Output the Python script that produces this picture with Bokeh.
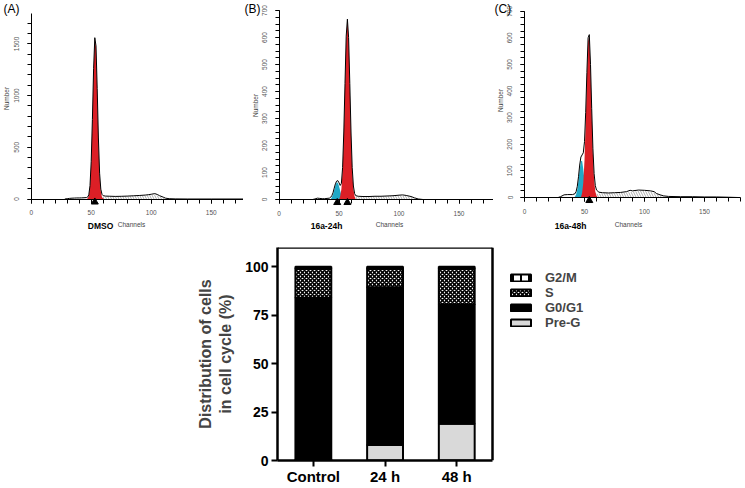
from bokeh.plotting import figure
from bokeh.models import (Range1d, FixedTicker, Label, Legend, LegendItem,
                          LinearAxis, ColumnDataSource)
from bokeh.layouts import row, column
from bokeh.embed import file_html
from bokeh.resources import INLINE

FONT = "Liberation Sans"

# ---------------- data: histogram A (DMSO) ----------------
a_ch = [28, 30, 32, 34, 36, 38, 40, 42, 44, 46, 47, 48, 49, 50, 51, 52, 53, 54, 55, 56,
        57, 58, 59, 60, 62, 65, 70, 75, 80, 85, 90, 95, 98, 100, 103, 105, 107, 110, 112, 115,
        120, 130, 150, 180]
a_cnt = [0, 3, 6, 8, 9, 10, 10, 11, 12, 14, 18, 40, 130, 360, 770, 1260, 1560, 1480, 1070, 590,
         250, 95, 45, 32, 28, 27, 25, 26, 28, 31, 34, 38, 42, 46, 52, 44, 32, 18, 8, 3,
         1, 0, 0, 0]
a_g1_ch = [46, 47, 48, 49, 50, 51, 52, 53, 54, 55, 56, 57, 58, 59, 60, 61]
a_g1_cnt = [0, 5, 30, 118, 345, 750, 1240, 1550, 1470, 1050, 570, 235, 75, 18, 4, 0]
a_pg_ch = []
a_pg_cnt = []
a_s_ch = [50, 55, 60, 65, 70, 75, 80, 85, 90, 95, 100, 103, 106, 110, 114]
a_s_cnt = [0, 10, 22, 24, 23, 24, 26, 29, 32, 35, 40, 42, 30, 12, 0]
a_marks = [53]

# ---------------- data: histogram B (16a-24h) ----------------
b_ch = [28, 30, 32, 34, 36, 38, 40, 42, 43, 44, 45, 46, 47, 48, 49, 50, 51, 52, 53, 54,
        55, 56, 57, 58, 59, 60, 61, 62, 63, 64, 66, 70, 75, 80, 85, 90, 95, 100, 103, 106,
        110, 113, 116, 120, 140, 180]
b_cnt = [0, 2, 5, 4, 3, 3, 4, 5, 8, 14, 25, 42, 58, 68, 70, 62, 52, 60, 118, 250,
         430, 605, 668, 600, 430, 250, 118, 50, 22, 14, 12, 11, 11, 12, 12, 13, 14, 16, 17, 15,
         11, 6, 2, 0, 0, 0]
b_g1_ch = [50, 51, 52, 53, 54, 55, 56, 57, 58, 59, 60, 61, 62, 63, 64]
b_g1_cnt = [0, 11, 39, 108, 240, 420, 595, 665, 595, 420, 240, 108, 39, 11, 0]
b_pg_ch = [43, 44, 45, 46, 47, 48, 49, 50, 51, 52, 53, 54]
b_pg_cnt = [0, 8, 18, 34, 52, 63, 62, 50, 32, 15, 5, 0]
b_s_ch = [55, 60, 65, 70, 80, 90, 100, 105, 110, 115]
b_s_cnt = [0, 8, 10, 10, 11, 12, 14, 14, 9, 0]
b_marks = [48.5, 57]

# ---------------- data: histogram C (16a-48h) ----------------
c_ch = [28, 30, 33, 36, 40, 42, 43, 44, 45, 46, 47, 48, 49, 50, 51, 52, 53, 54, 55, 56,
        57, 58, 59, 60, 62, 65, 70, 75, 80, 85, 88, 90, 95, 100, 105, 108, 110, 113, 116, 120,
        130, 140, 150, 160, 170, 178]
c_cnt = [0, 3, 10, 11, 11, 14, 22, 42, 78, 122, 152, 160, 168, 210, 320, 470, 600, 612, 500, 335,
         185, 90, 45, 28, 20, 18, 17, 18, 19, 22, 27, 25, 28, 27, 25, 22, 15, 10, 6, 4,
         3, 3, 2, 2, 1, 0]
c_g1_ch = [47, 48, 49, 50, 51, 52, 53, 54, 55, 56, 57, 58, 59, 60, 61]
c_g1_cnt = [0, 17, 55, 140, 282, 456, 587, 605, 489, 318, 164, 67, 23, 7, 0]
c_pg_ch = [41, 42, 43, 44, 45, 46, 47, 48, 49, 50, 51, 52, 53, 54]
c_pg_cnt = [0, 3, 11, 30, 64, 106, 136, 138, 106, 64, 30, 11, 3, 0]
c_s_ch = [52, 56, 60, 65, 70, 80, 88, 95, 100, 105, 110, 115, 120]
c_s_cnt = [0, 8, 14, 16, 16, 17, 20, 24, 24, 22, 14, 5, 0]
c_marks = [54]

hist_x_ticks = [0, 50, 100, 150]
hist_x_minor = [0, 10, 20, 30, 40, 50, 60, 70, 80, 90, 100, 110, 120, 130, 140, 150, 160, 170, 180]
a_y_ticks = [0, 500, 1000, 1500]
a_y_minor = [0, 100, 200, 300, 400, 500, 600, 700, 800, 900, 1000, 1100, 1200, 1300, 1400,
             1500, 1600, 1700]
bc_y_ticks = [0, 100, 200, 300, 400, 500, 600, 700]
bc_y_minor = [0, 25, 50, 75, 100, 125, 150, 175, 200, 225, 250, 275, 300, 325, 350, 375, 400,
              425, 450, 475, 500, 525, 550, 575, 600, 625, 650, 675, 700]

# ---------------- data: stacked bars ----------------
bar_cats = ["Control", "24 h", "48 h"]
pre_g = [0.5, 8.0, 19.0]
g0_g1 = [83.5, 81.5, 61.5]
s_phase = [15.0, 9.5, 18.5]
g2_m = [1.0, 1.0, 1.0]
bar_y_ticks = [0, 25, 50, 75, 100]

# ---------------- layout constants (page px) ----------------
PAGE_Y = 0
HIST_H = 230
PX_PER_CH = 1.2
RED = "#dc1f26"
CYAN = "#20a8c6"


def make_hist(left, width, x0, y0, y_top, y_top_px, yticks, yminor,
              ch, cnt, g1_ch, g1_cnt, pg_ch, pg_cnt, s_ch, s_cnt, marks, texts):
    ppc = (y0 - y_top_px) / y_top
    x_rng = Range1d((left - x0) / PX_PER_CH, (left + width - x0) / PX_PER_CH)
    y_rng = Range1d(-(PAGE_Y + HIST_H - y0) / ppc, (y0 - PAGE_Y) / ppc)
    p = figure(width=width, height=HIST_H, x_range=x_rng, y_range=y_rng,
               output_backend="svg", toolbar_location=None, min_border=0)
    p.grid.visible = False
    p.outline_line_color = None
    p.background_fill_color = "white"

    p.varea(x=s_ch, y1=[0] * len(s_ch), y2=s_cnt, fill_color=None, fill_alpha=0,
            hatch_pattern="\\", hatch_color="#777777", hatch_scale=5, hatch_weight=0.6)
    if pg_ch:
        p.varea(x=pg_ch, y1=[0] * len(pg_ch), y2=pg_cnt, fill_color=CYAN)
    p.varea(x=g1_ch, y1=[0] * len(g1_ch), y2=g1_cnt, fill_color=RED)
    p.line(x=ch, y=cnt, line_color="black", line_width=1)
    p.scatter(x=marks, y=[-3.0 / ppc] * len(marks), marker="triangle", size=7,
              color="black")

    for ax in (p.xaxis[0], p.yaxis[0]):
        ax.fixed_location = 0
        ax.axis_line_color = "black"
        ax.axis_line_width = 1
        ax.major_tick_line_color = "black"
        ax.minor_tick_line_color = "black"
        ax.major_tick_out = 4
        ax.major_tick_in = 0
        ax.minor_tick_out = 4
        ax.minor_tick_in = 0
        ax.major_label_text_font = FONT
        ax.major_label_text_font_size = "6.5px"
        ax.major_label_text_color = "#555555"
    p.xaxis.major_label_standoff = 7
    p.yaxis.major_label_standoff = 8
    p.xaxis.ticker = FixedTicker(ticks=hist_x_ticks, minor_ticks=hist_x_minor)
    p.xaxis.bounds = (0, 180)
    p.yaxis.ticker = FixedTicker(ticks=yticks, minor_ticks=yminor)
    p.yaxis.bounds = (0, y_top)
    p.yaxis.major_label_orientation = "vertical"

    for (txt, px, py, size, bold, align, angle) in texts:
        p.add_layout(Label(x=(px - x0) / PX_PER_CH, y=(y0 - py) / ppc, text=txt,
                           text_font=FONT, text_font_size=size,
                           text_font_style="bold" if bold else "normal",
                           text_align=align, text_baseline="middle", angle=angle,
                           text_color="black" if size != "6.5px" else "#444444"))
    return p


VERT = 1.5707963
pA = make_hist(0, 243, 30.7, 198.5, 1794, 13, a_y_ticks, a_y_minor,
               a_ch, a_cnt, a_g1_ch, a_g1_cnt, a_pg_ch, a_pg_cnt, a_s_ch, a_s_cnt, a_marks,
               [("(A)", 3, 8, "12px", False, "left", 0),
                ("Number", 6, 98, "6.5px", False, "center", VERT),
                ("DMSO", 100, 225, "8.5px", True, "center", 0),
                ("Channels", 131, 224, "6.5px", False, "center", 0)])
pB = make_hist(243, 250, 278.5, 199, 700, 10, bc_y_ticks, bc_y_minor,
               b_ch, b_cnt, b_g1_ch, b_g1_cnt, b_pg_ch, b_pg_cnt, b_s_ch, b_s_cnt, b_marks,
               [("(B)", 244, 8, "12px", False, "left", 0),
                ("Number", 255, 105, "6.5px", False, "center", VERT),
                ("16a-24h", 326, 225, "8.5px", True, "center", 0),
                ("Channels", 389, 224, "6.5px", False, "center", 0)])
pC = make_hist(493, 251, 524, 197, 700, 10.7, bc_y_ticks, bc_y_minor,
               c_ch, c_cnt, c_g1_ch, c_g1_cnt, c_pg_ch, c_pg_cnt, c_s_ch, c_s_cnt, c_marks,
               [("(C)", 494, 8, "12px", False, "left", 0),
                ("Number", 500, 100, "6.5px", False, "center", VERT),
                ("16a-48h", 570, 225, "8.5px", True, "center", 0),
                ("Channels", 628, 224, "6.5px", False, "center", 0)])

# ---------------- stacked bar chart ----------------
BAR_W, BAR_H = 744, 257
BORDER_L, BORDER_R = 277, 3
PX_PER_CAT = 71.7
bar_x = list(range(1, len(bar_cats) + 1))
x_end = 0.5 + (BAR_W - BORDER_L - BORDER_R) / PX_PER_CAT

src = ColumnDataSource(dict(x=bar_x, pre=pre_g, g1=g0_g1, s=s_phase, g2=g2_m))
pb = figure(width=BAR_W, height=BAR_H, x_range=Range1d(0.5, x_end),
            y_range=Range1d(0, 110), output_backend="svg", toolbar_location=None,
            min_border_left=BORDER_L, min_border_right=BORDER_R, min_border_top=17,
            min_border_bottom=0)
pb.grid.visible = False
pb.outline_line_color = None

rs = pb.vbar_stack(["pre", "g1", "s", "g2"], x="x", width=0.5, source=src,
                   fill_color=["#d9d9d9", "black", "white", "white"],
                   line_color="black", line_width=2,
                   hatch_pattern=[" ", " ", "x", "|"],
                   hatch_color="black", hatch_scale=[6, 6, 4, 8],
                   hatch_weight=[1, 1, 1.6, 2])

pb.yaxis.ticker = FixedTicker(ticks=bar_y_ticks)
pb.yaxis.minor_tick_line_color = None
pb.yaxis.axis_label = "Distribution of cells\nin cell cycle (%)"
pb.yaxis.axis_label_text_font = FONT
pb.yaxis.axis_label_text_font_size = "16px"
pb.yaxis.axis_label_text_font_style = "bold"
pb.yaxis.axis_label_standoff = 8
pb.xaxis.ticker = FixedTicker(ticks=bar_x)
pb.xaxis.minor_tick_line_color = None
pb.xaxis.major_label_overrides = {i: c for i, c in zip(bar_x, bar_cats)}
pb.xaxis.bounds = (0.5, 3.5)
pb.xaxis.axis_label_standoff = 0
for ax in (pb.xaxis[0], pb.yaxis[0]):
    ax.axis_line_width = 2.5
    ax.axis_line_color = "black"
    ax.major_tick_line_width = 2
    ax.major_tick_line_color = "black"
    ax.major_tick_out = 6
    ax.major_tick_in = 0
    ax.major_label_text_font = FONT
    ax.major_label_text_font_style = "bold"
    ax.major_label_text_color = "black"
pb.yaxis.major_label_text_font_size = "14px"
pb.yaxis.major_label_standoff = 3
pb.xaxis.major_label_text_font_size = "15px"
pb.xaxis.major_label_standoff = 1

# box: right and top edges of the plotting area
right_edge = LinearAxis(fixed_location=3.5, ticker=FixedTicker(ticks=[]),
                        axis_line_width=2.5, axis_line_color="black",
                        major_tick_line_color=None, minor_tick_line_color=None,
                        major_label_text_font_size="0px")
top_edge = LinearAxis(fixed_location=110, bounds=(0.5, 3.5), ticker=FixedTicker(ticks=[]),
                      axis_line_width=2.5, axis_line_color="black",
                      major_tick_line_color=None, minor_tick_line_color=None,
                      major_label_text_font_size="0px")
pb.add_layout(right_edge, "right")
pb.add_layout(top_edge, "above")

legend = Legend(items=[LegendItem(label="G2/M", renderers=[rs[3]]),
                       LegendItem(label="S", renderers=[rs[2]]),
                       LegendItem(label="G0/G1", renderers=[rs[1]]),
                       LegendItem(label="Pre-G", renderers=[rs[0]])],
                location=(231, 130), orientation="vertical",
                glyph_width=25, glyph_height=9, label_height=10, spacing=0,
                label_standoff=12, padding=0, margin=0,
                label_text_font=FONT, label_text_font_size="13px",
                label_text_font_style="bold", border_line_color=None,
                background_fill_alpha=0)
pb.add_layout(legend)

layout = column(row(pA, pB, pC), pb)
open("out.html", "w").write(file_html(layout, INLINE))
